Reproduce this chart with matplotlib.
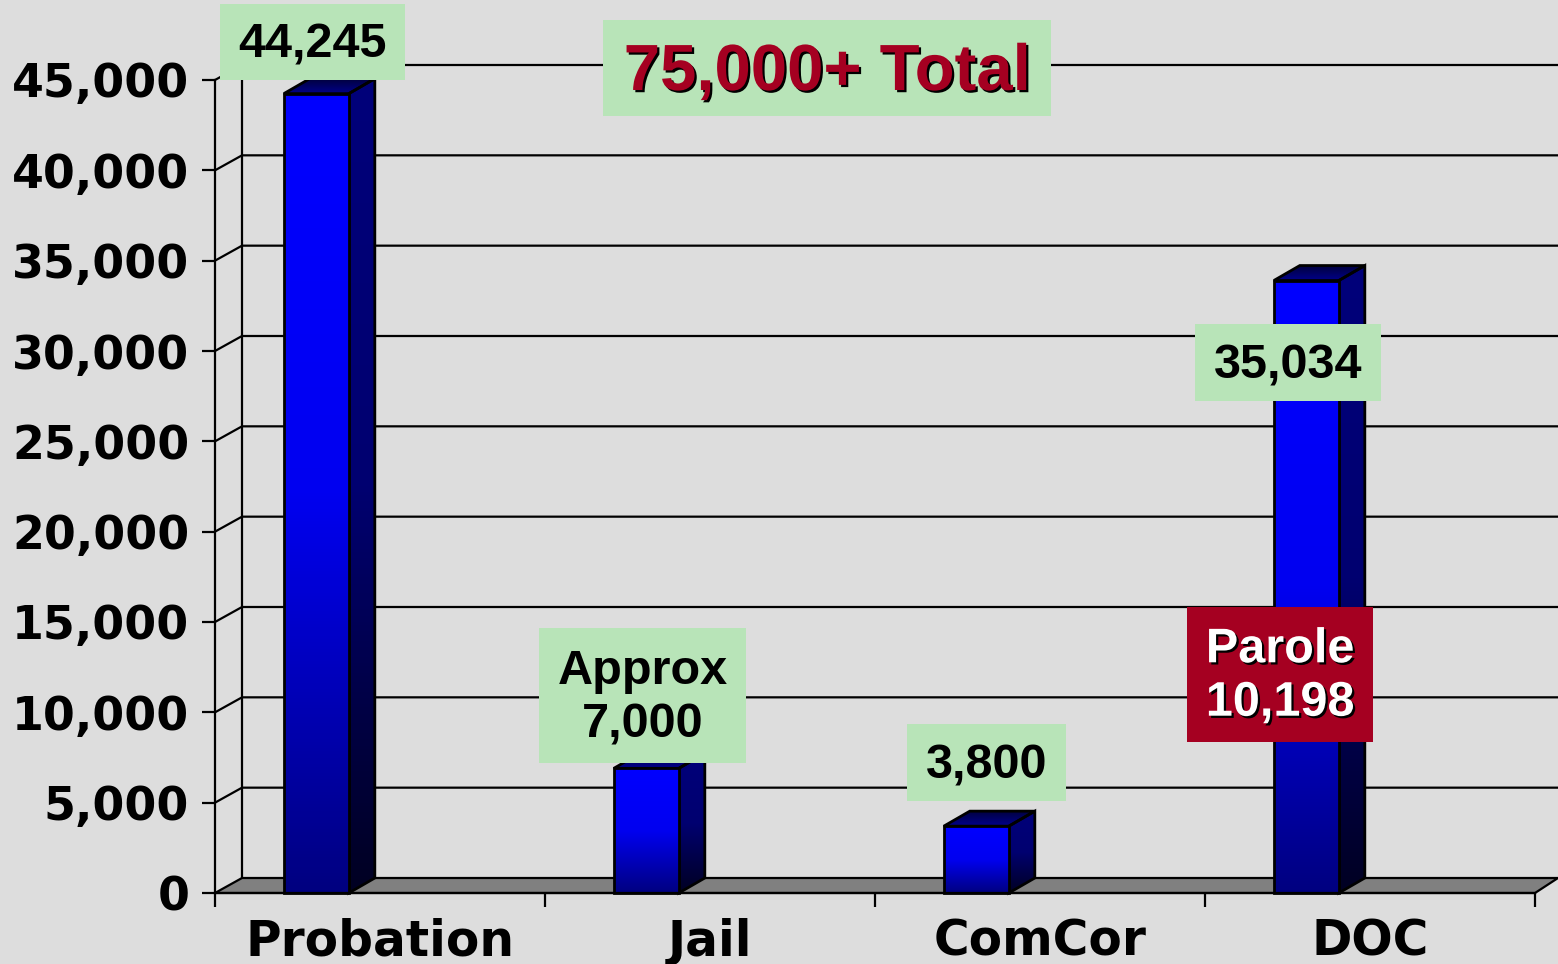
import numpy as np
import matplotlib
matplotlib.use('Agg')
import matplotlib.pyplot as plt
from matplotlib.patches import Polygon, Rectangle
import matplotlib.patheffects as pe
from matplotlib.colors import LinearSegmentedColormap
from matplotlib.ticker import FixedLocator, FuncFormatter, NullFormatter

# ---------------- data ----------------
categories = ['Probation', 'Jail', 'ComCor', 'DOC']
values = [44245, 6900, 3700, 33900]
y_ticks = [0, 5000, 10000, 15000, 20000, 25000, 30000, 35000, 40000, 45000]
value_labels = ['44,245', 'Approx\n7,000', '3,800', '35,034']
total_label = '75,000+ Total'
parole_label = 'Parole\n10,198'

# ---------------- layout (pixels of the 1558x964 canvas) ----------------
W, H = 1558, 964
X0PX, Y0PX = 215, 893        # front-left corner of the plot floor
CAT_PX = 330                 # width of one category
YMAX_PX = 813                # pixel height of 45,000
YMAX = 45000
DEPTH_X_PX, DEPTH_Y_PX = 27, 15
DEPTH_XR_PX = 23
BAR_OFFSET, BAR_W = -0.193, 0.197
BAR_DEPTH_X_PX = 26

# label boxes: (left, top, right, bottom) in pixels
value_boxes = [(220, 4, 405, 80), (539, 628, 746, 763), (907, 724, 1066, 801), (1195, 324, 1381, 401)]
total_box = (603, 20, 1051, 116)
parole_box = (1187, 607, 1373, 742)

BG = '#DDDDDD'
GREEN = '#B8E4B8'
RED = '#A50021'


def ux(px):
    return (px - X0PX) / CAT_PX - 0.5


def uy(py):
    return (Y0PX - py) * YMAX / YMAX_PX


DX = DEPTH_X_PX / CAT_PX
DXR = DEPTH_XR_PX / CAT_PX
DXB = BAR_DEPTH_X_PX / CAT_PX
DY = DEPTH_Y_PX * YMAX / YMAX_PX

fig = plt.figure(figsize=(W / 100, H / 100), dpi=100, facecolor=BG)
ax = fig.add_axes([0, 0, 1, 1])
ax.set_facecolor('none')
XMIN, XMAX = ux(0), ux(W)
YMIN, YTOP = uy(H), uy(0)

n = len(categories)
LW = 1.6
BLW = 2.0

# back wall gridlines + side wall diagonals
for v in y_ticks[1:]:
    ax.plot([-0.5, -0.5 + DX, XMAX + 1], [v, v + DY, v + DY], color='black', lw=LW, zorder=1,
            solid_capstyle='butt')
# back-left wall edge
ax.plot([-0.5 + DX, -0.5 + DX], [DY, YMAX + DY], color='black', lw=LW, zorder=1)

# floor
floor = Polygon([(-0.5, 0), (n - 0.5, 0), (n - 0.5 + DXR, DY), (-0.5 + DX, DY)], closed=True,
                facecolor='#808080', edgecolor='black', lw=LW, zorder=2, joinstyle='miter')
ax.add_patch(floor)

# gradient colormaps
front_cm = LinearSegmentedColormap.from_list('front', ['#000080', '#0000F0', '#0000FF'])
side_cm = LinearSegmentedColormap.from_list('side', ['#000022', '#000070', '#00007A'])
top_cm = LinearSegmentedColormap.from_list('top', ['#000040', '#00008C'])
grad = np.linspace(0, 1, 256).reshape(-1, 1)


def shaded_face(pts, cmap, z, reverse=False):
    poly = Polygon(pts, closed=True, facecolor='none', edgecolor='black', lw=BLW, zorder=z + 0.5,
                   joinstyle='miter')
    ax.add_patch(poly)
    xs = [p[0] for p in pts]
    ys = [p[1] for p in pts]
    g = grad[::-1] if reverse else grad
    im = ax.imshow(g, cmap=cmap, aspect='auto', origin='lower',
                   extent=(min(xs), max(xs), min(ys), max(ys)), zorder=z, interpolation='bilinear')
    im.set_clip_path(poly)


for i, v in enumerate(values):
    xl = i + BAR_OFFSET - BAR_W / 2
    xr = i + BAR_OFFSET + BAR_W / 2
    shaded_face([(xr, 0), (xr + DXB, DY), (xr + DXB, v + DY), (xr, v)], side_cm, 3)
    shaded_face([(xl, v), (xr, v), (xr + DXB, v + DY), (xl + DXB, v + DY)], top_cm, 3, reverse=True)
    shaded_face([(xl, 0), (xr, 0), (xr, v), (xl, v)], front_cm, 4)

ax.set_xlim(XMIN, XMAX)
ax.set_ylim(YMIN, YTOP)

# spines / axes
for s in ['top', 'right']:
    ax.spines[s].set_visible(False)
ax.spines['left'].set_position(('data', -0.5))
ax.spines['left'].set_bounds(0, YMAX)
ax.spines['bottom'].set_position(('data', 0))
ax.spines['bottom'].set_bounds(-0.5, n - 0.5)
for s in ['left', 'bottom']:
    ax.spines[s].set_linewidth(LW)
    ax.spines[s].set_zorder(5)

ax.yaxis.set_major_locator(FixedLocator(y_ticks))
ax.yaxis.set_major_formatter(FuncFormatter(lambda v, p: f'{int(v):,}'))
ax.tick_params(axis='y', length=9.5, width=LW, pad=9, labelsize=33)
for t in ax.get_yticklabels():
    t.set_fontweight('bold')
    t.set_fontfamily('DejaVu Sans')

ax.xaxis.set_major_locator(FixedLocator(np.arange(n + 1) - 0.5))
ax.xaxis.set_major_formatter(NullFormatter())
ax.xaxis.set_minor_locator(FixedLocator(np.arange(n)))
ax.xaxis.set_minor_formatter(FuncFormatter(lambda v, p: categories[int(round(v))]))
ax.tick_params(axis='x', which='major', length=10, width=LW, direction='out')
ax.tick_params(axis='x', which='minor', length=0, pad=18, labelsize=35)
for t in ax.xaxis.get_minorticklabels():
    t.set_fontweight('bold')
    t.set_fontfamily('DejaVu Sans')

shadow = [pe.SimplePatchShadow(offset=(1.6, -1.6), shadow_rgbFace='black', alpha=1.0), pe.Normal()]


def box_label(box, text, fc, tc, size, fx=None, nudge=0, ls=1.24):
    l, t, r, b = box
    ax.add_patch(Rectangle((ux(l), uy(b)), ux(r) - ux(l), uy(t) - uy(b), facecolor=fc,
                           edgecolor='none', zorder=8, clip_on=False))
    ax.text((ux(l) + ux(r)) / 2, uy((t + b) / 2 + nudge), text, ha='center', va='center',
            fontsize=size, fontweight='bold', color=tc, family='Liberation Sans',
            linespacing=ls, zorder=9, path_effects=fx)


for box, txt in zip(value_boxes, value_labels):
    box_label(box, txt, GREEN, 'black', 35, nudge=3)
box_label(total_box, total_label, GREEN, RED, 47, shadow, nudge=5)
box_label(parole_box, parole_label, RED, 'white', 35, shadow, nudge=2)

fig.savefig('out.png', dpi=100, facecolor=BG)
